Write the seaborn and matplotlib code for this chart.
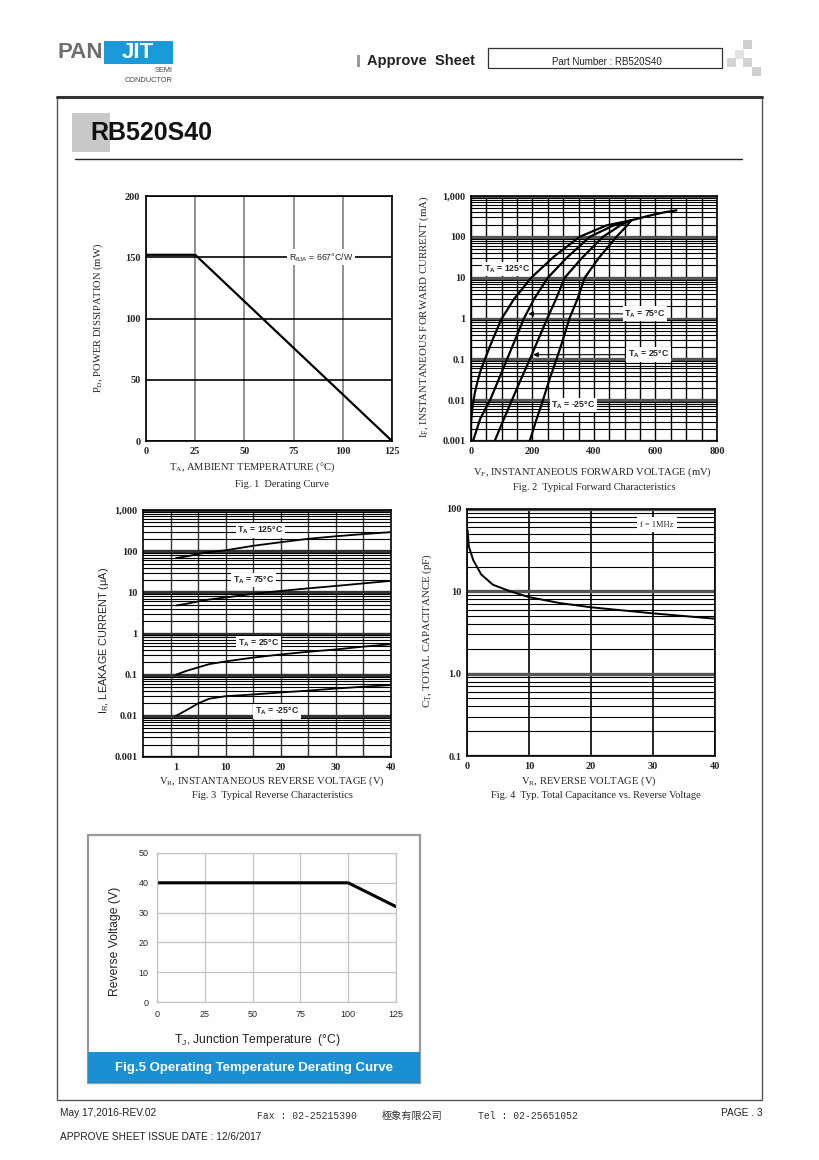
import numpy as np
import matplotlib
matplotlib.use('Agg')
import matplotlib.pyplot as plt
import seaborn as sns
from matplotlib.patches import Rectangle
from matplotlib.lines import Line2D
from matplotlib.ticker import FixedLocator, LogLocator, NullFormatter

# Fig. 1 derating curve
ta = [0, 25, 125]
pd_mw = [152, 152, 0]
ta_ticks = [0, 25, 50, 75, 100, 125]
pd_ticks = [0, 50, 100, 150, 200]

# Fig. 2 forward characteristics (mV, mA)
vf_125 = [0, 4, 10, 16, 22, 32, 45, 70, 100, 140, 196, 270, 353, 440, 521]
if_125 = [0.003, 0.006, 0.012, 0.02, 0.03, 0.055, 0.1, 0.3, 1, 3, 10, 33, 100, 190, 254]
vf_75 = [6.5, 30, 62, 90, 117, 145, 172, 205, 250, 310, 386, 460, 521]
if_75 = [0.001, 0.0035, 0.01, 0.032, 0.1, 0.32, 1, 3, 10, 30, 100, 185, 254]
vf_25 = [77, 105, 133, 162, 197, 222, 248, 275, 305, 360, 429, 490, 521]
if_25 = [0.001, 0.0032, 0.01, 0.032, 0.126, 0.35, 1, 2.84, 10, 30, 100, 200, 254]
vf_m25 = [191, 212, 234, 255, 278, 300, 320, 345, 370, 415, 473, 505, 521]
if_m25 = [0.001, 0.0032, 0.01, 0.032, 0.1, 0.32, 1, 2.84, 10, 30, 100, 180, 254]
vf_tail = [521, 580, 630, 668]
if_tail = [254, 330, 400, 445]
vf_ticks = [0, 200, 400, 600, 800]
log_ticks = [0.001, 0.01, 0.1, 1, 10, 100, 1000]
log_labels = ['0.001', '0.01', '0.1', '1', '10', '100', '1,000']

# Fig. 3 reverse characteristics (V, uA)
vr3 = [1, 3, 5, 7, 10, 15, 20, 25, 30, 35, 40]
ir_125 = [68, 75, 85, 95, 105, 135, 165, 200, 230, 260, 290]
ir_75 = [4.8, 5.3, 6.0, 6.7, 7.5, 9.2, 10.8, 12.5, 14.3, 16.5, 19]
ir_25 = [0.10, 0.125, 0.15, 0.18, 0.21, 0.26, 0.31, 0.36, 0.41, 0.48, 0.55]
ir_m25 = [0.010, 0.014, 0.020, 0.026, 0.030, 0.033, 0.037, 0.041, 0.046, 0.051, 0.056]
vr3_ticks = [1, 10, 20, 30, 40]

# Fig. 4 capacitance (V, pF)
vr4 = [0.1, 0.3, 1, 2.3, 4.2, 7, 10, 15, 20, 30, 40]
ct = [55, 35, 24, 16, 12, 10, 8.5, 7.2, 6.4, 5.4, 4.65]
vr4_ticks = [0, 10, 20, 30, 40]
ct_ticks = [0.1, 1, 10, 100]
ct_labels = ['0.1', '1.0', '10', '100']

# Fig. 5 operating temperature derating
tj = [0, 100, 125]
vr5 = [40, 40, 32]
tj_ticks = [0, 25, 50, 75, 100, 125]
vr5_ticks = [0, 10, 20, 30, 40, 50]

sns.set_style('white')
plt.rcParams['font.family'] = ['Liberation Sans', 'DejaVu Sans']
SERIF = ['Liberation Serif', 'DejaVu Serif']
SANS = ['Liberation Sans', 'DejaVu Sans']

W, H = 820, 1160
fig = plt.figure(figsize=(8.2, 11.6), dpi=100)


def fx(x):
    return x / W


def fy(y):
    return 1 - y / H


def add_ax(l, t, r, b):
    return fig.add_axes([fx(l), fy(b), (r - l) / W, (b - t) / H])


def rect(l, t, r, b, **kw):
    fig.add_artist(Rectangle((fx(l), fy(b)), (r - l) / W, (b - t) / H,
                             transform=fig.transFigure, **kw))


def hline(x0, x1, y, **kw):
    fig.add_artist(Line2D([fx(x0), fx(x1)], [fy(y), fy(y)],
                          transform=fig.transFigure, **kw))


def txt(x, y, s, **kw):
    kw.setdefault('ha', 'center')
    kw.setdefault('va', 'center')
    fig.text(fx(x), fy(y), s, **kw)


tick_serif = dict(fontfamily=SERIF, fontweight='bold', fontsize=7.5)


def frame(ax, color='black', lw=1.2):
    for s in ax.spines.values():
        s.set_visible(True)
        s.set_color(color)
        s.set_linewidth(lw)
    ax.tick_params(which='both', length=0, pad=4)
    ax.set_axisbelow(True)
    ax.set_xlabel('')
    ax.set_ylabel('')


def log_grid(ax, major_color='#444444'):
    ax.yaxis.set_minor_locator(LogLocator(base=10, subs=np.arange(2, 10)))
    ax.yaxis.set_minor_formatter(NullFormatter())
    ax.grid(True, which='minor', axis='y', color='black', lw=0.8)
    ax.grid(True, which='major', axis='y', color=major_color, lw=2.4)


label_box = dict(fc='white', ec='none', pad=1.2)

# ---------- page header ----------
txt(80, 53, 'PAN', fontsize=16, fontweight='bold', color='#6d6e71')
rect(104, 41, 173, 64, fc='#1a9ad6', ec='none')
txt(138, 53, 'JIT', fontsize=16, fontweight='bold', color='white')
txt(173, 71, 'SEMI', fontsize=5.3, ha='right', color='#444444')
txt(173, 80, 'CONDUCTOR', fontsize=5.3, ha='right', color='#444444')

rect(357, 55, 360, 67, fc='#999999', ec='none')
txt(367, 61, 'Approve  Sheet', fontsize=10.5, fontweight='bold', ha='left', color='#222222')
rect(488, 48, 722, 68, fill=False, ec='#333333', lw=0.9)
txt(607, 62, 'Part Number : RB520S40', fontsize=7, color='#222222')
for (l, t, c) in [(743, 40, '#cfcfcf'), (735, 50, '#e2e2e2'), (727, 58, '#d3d3d3'),
                  (743, 58, '#d3d3d3'), (752, 67, '#cfcfcf')]:
    rect(l, t, l + 9, t + 9, fc=c, ec='none')

# main frame
rect(57, 97, 762, 1100, fill=False, ec='#555555', lw=1.0)
hline(57, 762, 97, color='#333333', lw=2.2)
rect(72, 113, 110, 152, fc='#c8c8c8', ec='none')
txt(90, 133, 'RB520S40', fontsize=18, fontweight='bold', ha='left', color='#111111')
hline(75, 742, 159, color='#222222', lw=1.0)

# ---------- Fig. 1 ----------
ax1 = add_ax(146, 196, 392, 441)
ax1.set_xlim(0, 125)
ax1.set_ylim(0, 200)
ax1.set_xticks(ta_ticks, [str(v) for v in ta_ticks], **tick_serif)
ax1.set_yticks(pd_ticks, [str(v) for v in pd_ticks], **tick_serif)
ax1.grid(True, axis='x', color='#8a8a8a', lw=1.3)
ax1.grid(True, axis='y', color='black', lw=1.2)
sns.lineplot(x=ta, y=pd_mw, ax=ax1, color='black', linewidth=1.6)
ax1.text(89, 150, '$\\mathregular{R_{θJA}}$ = 667°C/W', fontsize=6.3, ha='center',
         va='center', bbox=label_box, zorder=4, family=SANS)
frame(ax1)
txt(98, 318, 'P$\\mathregular{_D}$, POWER DISSIPATION (mW)', rotation=90,
    fontsize=7.6, family=SERIF)
txt(252, 467, 'T$\\mathregular{_A}$, AMBIENT TEMPERATURE (°C)', fontsize=7.6, family=SERIF)
txt(282, 484, 'Fig. 1  Derating Curve', fontsize=7.5, family=SERIF)

# ---------- Fig. 2 ----------
ax2 = add_ax(471, 196, 717, 441)
ax2.set_yscale('log')
ax2.set_xlim(0, 800)
ax2.set_ylim(0.001, 1000)
ax2.set_xticks(vf_ticks, [str(v) for v in vf_ticks], **tick_serif)
ax2.set_yticks(log_ticks, log_labels, **tick_serif)
ax2.xaxis.set_minor_locator(FixedLocator(np.arange(0, 801, 50)))
ax2.grid(True, which='both', axis='x', color='black', lw=1.0)
log_grid(ax2, '#555555')
for vx, iy in [(vf_125, if_125), (vf_75, if_75), (vf_25, if_25), (vf_m25, if_m25),
               (vf_tail, if_tail)]:
    sns.lineplot(x=vx, y=iy, ax=ax2, color='black', linewidth=1.6, sort=False)
ax2.text(117, 16.3, 'T$\\mathregular{_A}$ = 125°C', fontsize=6.3, fontweight='bold',
         ha='center', va='center', bbox=label_box, zorder=4, family=SANS)
arrow = dict(arrowstyle='-|>', color='black', lw=0.8, shrinkA=0, shrinkB=0,
             mutation_scale=7)
ax2.annotate('T$\\mathregular{_A}$ = 75°C', xy=(186, 1.3), xytext=(566, 1.3),
             fontsize=6.3, fontweight='bold', ha='center', va='center',
             bbox=label_box, arrowprops=arrow, zorder=4, family=SANS)
ax2.annotate('T$\\mathregular{_A}$ = 25°C', xy=(202, 0.13), xytext=(577, 0.13),
             fontsize=6.3, fontweight='bold', ha='center', va='center',
             bbox=label_box, arrowprops=arrow, zorder=4, family=SANS)
ax2.text(333, 0.0076, 'T$\\mathregular{_A}$ = -25°C', fontsize=6.3, fontweight='bold',
         ha='center', va='center', bbox=label_box, zorder=4, family=SANS)
frame(ax2)
txt(424, 317, 'I$\\mathregular{_F}$, INSTANTANEOUS FORWARD CURRENT (mA)', rotation=90,
    fontsize=7.8, family=SERIF)
txt(592, 472, 'V$\\mathregular{_F}$, INSTANTANEOUS FORWARD VOLTAGE (mV)', fontsize=7.6,
    family=SERIF)
txt(594, 488, 'Fig. 2  Typical Forward Characteristics', fontsize=7.5, family=SERIF)

# ---------- Fig. 3 ----------
ax3 = add_ax(143, 510, 391, 757)
ax3.set_yscale('log')
ax3.set_xlim(-5, 40)
ax3.set_ylim(0.001, 1000)
ax3.set_xticks(vr3_ticks, [str(v) for v in vr3_ticks], **tick_serif)
ax3.set_yticks(log_ticks, log_labels, **tick_serif)
ax3.xaxis.set_minor_locator(FixedLocator(np.arange(0, 36, 5)))
ax3.xaxis.remove_overlapping_locs = False
ax3.grid(True, which='minor', axis='x', color='#333333', lw=1.0)
log_grid(ax3, '#333333')
for iy in [ir_125, ir_75, ir_25, ir_m25]:
    sns.lineplot(x=vr3, y=iy, ax=ax3, color='black', linewidth=1.3)
for (x, y, s) in [(16.3, 322, '125°C'), (15.0, 20, '75°C'), (16.0, 0.59, '25°C'),
                  (19.3, 0.0128, '-25°C')]:
    ax3.text(x, y, 'T$\\mathregular{_A}$ = ' + s, fontsize=6.3, fontweight='bold',
             ha='center', va='center', bbox=label_box, zorder=4, family=SANS)
frame(ax3)
txt(104, 640, 'I$\\mathregular{_R}$, LEAKAGE CURRENT (μA)', rotation=90, fontsize=7.8,
    family=SANS)
txt(272, 781, 'V$\\mathregular{_R}$, INSTANTANEOUS REVERSE VOLTAGE (V)', fontsize=7.6,
    family=SERIF)
txt(272, 796, 'Fig. 3  Typical Reverse Characteristics', fontsize=7.5, family=SERIF)

# ---------- Fig. 4 ----------
ax4 = add_ax(467, 509, 715, 756)
ax4.set_yscale('log')
ax4.set_xlim(0, 40)
ax4.set_ylim(0.1, 100)
ax4.set_xticks(vr4_ticks, [str(v) for v in vr4_ticks], **tick_serif)
ax4.set_yticks(ct_ticks, ct_labels, **tick_serif)
ax4.grid(True, which='major', axis='x', color='black', lw=1.2)
log_grid(ax4, '#555555')
sns.lineplot(x=vr4, y=ct, ax=ax4, color='black', linewidth=1.4)
ax4.text(30.6, 64, 'f = 1MHz', fontsize=6, ha='center', va='center',
         bbox=dict(fc='white', ec='none', pad=2.5), zorder=4, family=SERIF)
frame(ax4)
txt(427, 630, 'C$\\mathregular{_T}$, TOTAL CAPACITANCE (pF)', rotation=90, fontsize=7.8,
    family=SERIF)
txt(589, 781, 'V$\\mathregular{_R}$, REVERSE VOLTAGE (V)', fontsize=7.6, family=SERIF)
txt(596, 796, 'Fig. 4  Typ. Total Capacitance vs. Reverse Voltage', fontsize=7.5,
    family=SERIF)

# ---------- Fig. 5 ----------
rect(88, 835, 420, 1083, fill=False, ec='#9a9a9a', lw=1.6)
rect(88, 1052, 420, 1083, fc='#1a8fd2', ec='none')
txt(254, 1068, 'Fig.5 Operating Temperature Derating Curve', fontsize=9.5,
    fontweight='bold', color='white')
ax5 = add_ax(157, 853, 396, 1002)
ax5.set_xlim(0, 125)
ax5.set_ylim(0, 50)
tick_sans = dict(fontfamily=SANS, fontsize=6.5)
ax5.set_xticks(tj_ticks, [str(v) for v in tj_ticks], **tick_sans)
ax5.set_yticks(vr5_ticks, [str(v) for v in vr5_ticks], **tick_sans)
ax5.grid(True, color='#c4c4c4', lw=0.9)
sns.lineplot(x=tj, y=vr5, ax=ax5, color='black', linewidth=2.2)
frame(ax5, '#c4c4c4', 0.9)
ax5.tick_params(pad=6)
txt(115, 941, 'Reverse Voltage (V)', rotation=90, fontsize=8.7, color='#222222')
txt(257, 1040, 'T$\\mathregular{_J}$, Junction Temperature  (°C)', fontsize=8.7,
    color='#222222')

# ---------- footer ----------
txt(60, 1113, 'May 17,2016-REV.02', fontsize=7.3, ha='left', color='#222222')
txt(257, 1116, 'Fax : 02-25215390', fontsize=7, ha='left',
    family=['Liberation Mono', 'DejaVu Sans Mono'], color='#333333')
txt(382, 1116, '極象有限公司', fontsize=7.3, ha='left',
    family=['Noto Sans CJK TC', 'DejaVu Sans'], color='#333333')
txt(478, 1116, 'Tel : 02-25651052', fontsize=7, ha='left',
    family=['Liberation Mono', 'DejaVu Sans Mono'], color='#333333')
txt(763, 1113, 'PAGE . 3', fontsize=7.3, ha='right', color='#222222')
txt(60, 1137, 'APPROVE SHEET ISSUE DATE : 12/6/2017', fontsize=7.3, ha='left',
    color='#222222')

fig.savefig('out.png', dpi=100)
